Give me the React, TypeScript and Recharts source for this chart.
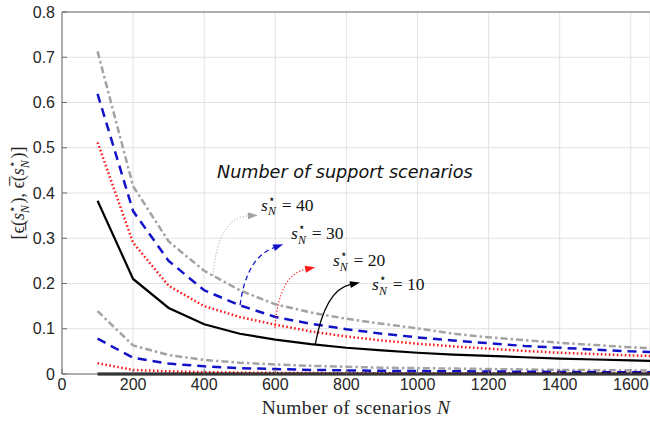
import React from 'react';
import { LineChart, Line, XAxis, YAxis, CartesianGrid, ReferenceLine } from 'recharts';

// sample sizes N
const nValues = [100, 200, 300, 400, 500, 600, 700, 800, 900, 1000, 1100, 1200, 1300, 1400, 1500, 1600, 1700];

// upper bounds for s*_N = 10, 20, 30, 40
const upper10 = [0.383, 0.210, 0.146, 0.110, 0.089, 0.076, 0.066, 0.058, 0.052, 0.047, 0.043, 0.040, 0.037, 0.034, 0.032, 0.030, 0.028];
const upper20 = [0.512, 0.290, 0.195, 0.150, 0.126, 0.109, 0.094, 0.083, 0.074, 0.067, 0.061, 0.056, 0.051, 0.047, 0.044, 0.041, 0.039];
const upper30 = [0.619, 0.360, 0.250, 0.185, 0.152, 0.126, 0.111, 0.099, 0.089, 0.081, 0.074, 0.068, 0.062, 0.058, 0.054, 0.050, 0.047];
const upper40 = [0.713, 0.415, 0.293, 0.228, 0.185, 0.154, 0.136, 0.122, 0.111, 0.101, 0.089, 0.081, 0.075, 0.069, 0.064, 0.059, 0.056];

// lower bounds
const lower10 = [0, 0, 0, 0, 0, 0, 0, 0, 0, 0, 0, 0, 0, 0, 0, 0, 0];
const lower20 = [0.024, 0.009, 0.006, 0.004, 0.003, 0.0025, 0.002, 0.0018, 0.0016, 0.0014, 0.0013, 0.0012, 0.0011, 0.001, 0.001, 0.0009, 0.0009];
const lower30 = [0.078, 0.036, 0.023, 0.017, 0.013, 0.011, 0.009, 0.008, 0.007, 0.0065, 0.006, 0.0055, 0.005, 0.0045, 0.0042, 0.004, 0.0038];
const lower40 = [0.139, 0.063, 0.042, 0.031, 0.025, 0.021, 0.018, 0.016, 0.014, 0.013, 0.012, 0.011, 0.010, 0.009, 0.0085, 0.008, 0.0075];

const xTicks = [0, 200, 400, 600, 800, 1000, 1200, 1400, 1600];
const yTicks = [0, 0.1, 0.2, 0.3, 0.4, 0.5, 0.6, 0.7, 0.8];

const data = nValues.map((n, i) => ({
  n,
  up10: upper10[i], up20: upper20[i], up30: upper30[i], up40: upper40[i],
  lo10: lower10[i], lo20: lower20[i], lo30: lower30[i], lo40: lower40[i],
}));

const W = 650;
const H = 424;
const TOP = 12;
const Y_AXIS_W = 62;
const X_AXIS_H = 50;
const X_MAX = 1654;
const Y_MAX = 0.8;

const plotBottom = H - X_AXIS_H;
const plotW = W - Y_AXIS_W;
const plotH = plotBottom - TOP;
const toPx = (n: number, v: number): [number, number] => [
  Y_AXIS_W + (n / X_MAX) * plotW,
  plotBottom - (v / Y_MAX) * plotH,
];

const AXIS = '#6b6b6b';
const TEXT = '#262626';
const GRAY = '#a3a3a3';
const BLUE = '#1212c8';
const RED = '#ff1a1a';
const BLACK = '#000000';
const TICK_FONT = '"Liberation Sans", Arial, sans-serif';
const SERIF = '"Liberation Serif", "Times New Roman", serif';

// annotation arrows, in data units
const arrows = [
  { from: [425, 0.217], ctrl: [438, 0.345], to: [551, 0.351], color: GRAY, dash: '1.2 2', w: 1 },
  { from: [501, 0.152], ctrl: [518, 0.256], to: [622, 0.287], color: BLUE, dash: '5 3.5', w: 1.3 },
  { from: [599, 0.102], ctrl: [610, 0.219], to: [712, 0.236], color: RED, dash: '1.2 2', w: 1.2 },
  { from: [712, 0.064], ctrl: [740, 0.186], to: [838, 0.202], color: BLACK, dash: undefined, w: 1.3 },
];
const labels = [
  { at: [560, 0.361], value: '40' },
  { at: [644, 0.298], value: '30' },
  { at: [762, 0.239], value: '20' },
  { at: [872, 0.186], value: '10' },
];

const XTick = (props: any) => {
  const { x, payload } = props;
  return (
    <g>
      <line x1={x} x2={x} y1={plotBottom} y2={plotBottom - 5} stroke={AXIS} />
      <text x={x} y={plotBottom + 16} textAnchor="middle" fontSize={16} fontFamily={TICK_FONT} fill={TEXT}>
        {payload.value}
      </text>
    </g>
  );
};

const YTick = (props: any) => {
  const { y, payload } = props;
  return (
    <g>
      <line x1={Y_AXIS_W} x2={Y_AXIS_W + 5} y1={y} y2={y} stroke={AXIS} />
      <text x={Y_AXIS_W - 7} y={y + 5.7} textAnchor="end" fontSize={16} fontFamily={TICK_FONT} fill={TEXT}>
        {payload.value}
      </text>
    </g>
  );
};

// s with a star on top and N below, stacked like LaTeX s^*_N
const SN = ({ size }: { size: number }) => (
  <>
    <tspan fontStyle="italic">s</tspan>
    <tspan dy={-size * 0.45} fontSize={size * 0.68}>⋆</tspan>
    <tspan dx={-size * 0.45} dy={size * 0.72} fontSize={size * 0.68} fontStyle="italic">N</tspan>
    <tspan dy={-size * 0.27}>{'\u200a'}</tspan>
  </>
);

const Annotations = () => (
  <svg width={W} height={H} style={{ position: 'absolute', left: 0, top: 0, pointerEvents: 'none' }}>
    {arrows.map((a, i) => {
      const p0 = toPx(a.from[0], a.from[1]);
      const c = toPx(a.ctrl[0], a.ctrl[1]);
      const p1 = toPx(a.to[0], a.to[1]);
      const dx = p1[0] - c[0];
      const dy = p1[1] - c[1];
      const len = Math.hypot(dx, dy);
      const ux = dx / len;
      const uy = dy / len;
      const hl = 10;
      const hw = 3.5;
      const bx = p1[0] - ux * hl;
      const by = p1[1] - uy * hl;
      const head = `${p1[0]},${p1[1]} ${bx - uy * hw},${by + ux * hw} ${bx + uy * hw},${by - ux * hw}`;
      return (
        <g key={i}>
          <path
            d={`M${p0[0]},${p0[1]} Q${c[0]},${c[1]} ${bx},${by}`}
            fill="none"
            stroke={a.color}
            strokeWidth={a.w}
            strokeDasharray={a.dash}
          />
          <polygon points={head} fill={a.color} />
        </g>
      );
    })}
    {labels.map((l, i) => {
      const p = toPx(l.at[0], l.at[1]);
      return (
        <text key={i} x={p[0]} y={p[1]} fontSize={17.5} fontFamily={SERIF} fill="#111">
          <SN size={17.5} />
          {` = ${l.value}`}
        </text>
      );
    })}
    <text
      x={toPx(436, 0.433)[0]}
      y={toPx(436, 0.433)[1]}
      fontSize={17.6}
      fontStyle="italic"
      fontFamily='"DejaVu Sans", Verdana, sans-serif'
      fill="#111"
    >
      Number of support scenarios
    </text>
    <text x={356} y={414} textAnchor="middle" fontSize={19.5} letterSpacing={0.4} fontFamily={SERIF} fill={TEXT}>
      Number of scenarios <tspan fontStyle="italic">N</tspan>
    </text>
    <text
      transform={`translate(24, ${TOP + plotH / 2}) rotate(-90)`}
      textAnchor="middle"
      fontSize={18}
      fontFamily={SERIF}
      fill={TEXT}
    >
      [{'\u03f5\u0332'}(<SN size={18} />), {'\u03f5\u0305'}(<SN size={18} />)]
    </text>
  </svg>
);

export default function App() {
  return (
    <div style={{ position: 'absolute', left: 0, top: 0, width: W, height: H, overflow: 'hidden', background: '#fff' }}>
      <LineChart width={W} height={H} data={data} margin={{ top: TOP, right: 0, left: 0, bottom: 0 }}>
        <CartesianGrid stroke="#e2e2e2" />
        <XAxis
          type="number"
          dataKey="n"
          domain={[0, X_MAX]}
          ticks={xTicks}
          allowDataOverflow
          interval={0}
          height={X_AXIS_H}
          tickSize={0}
          tickMargin={0}
          tick={<XTick />}
          axisLine={{ stroke: AXIS }}
        />
        <YAxis
          type="number"
          domain={[0, Y_MAX]}
          ticks={yTicks}
          interval={0}
          width={Y_AXIS_W}
          tickSize={0}
          tickMargin={0}
          tick={<YTick />}
          axisLine={{ stroke: AXIS }}
        />
        <ReferenceLine y={Y_MAX} stroke={AXIS} />
        <Line dataKey="lo40" stroke={GRAY} strokeWidth={2.5} strokeDasharray="7 3 2.5 3" dot={false} isAnimationActive={false} />
        <Line dataKey="lo30" stroke={BLUE} strokeWidth={2.5} strokeDasharray="9 6" dot={false} isAnimationActive={false} />
        <Line dataKey="lo20" stroke={RED} strokeWidth={2.5} strokeDasharray="1.6 2.4" dot={false} isAnimationActive={false} />
        <Line dataKey="lo10" stroke={BLACK} strokeWidth={3} dot={false} isAnimationActive={false} />
        <Line dataKey="up40" stroke={GRAY} strokeWidth={2.5} strokeDasharray="7 3 2.5 3" dot={false} isAnimationActive={false} />
        <Line dataKey="up30" stroke={BLUE} strokeWidth={2.5} strokeDasharray="9 6" dot={false} isAnimationActive={false} />
        <Line dataKey="up20" stroke={RED} strokeWidth={2.5} strokeDasharray="1.6 2.4" dot={false} isAnimationActive={false} />
        <Line dataKey="up10" stroke={BLACK} strokeWidth={2.2} dot={false} isAnimationActive={false} />
      </LineChart>
      <Annotations />
    </div>
  );
}
